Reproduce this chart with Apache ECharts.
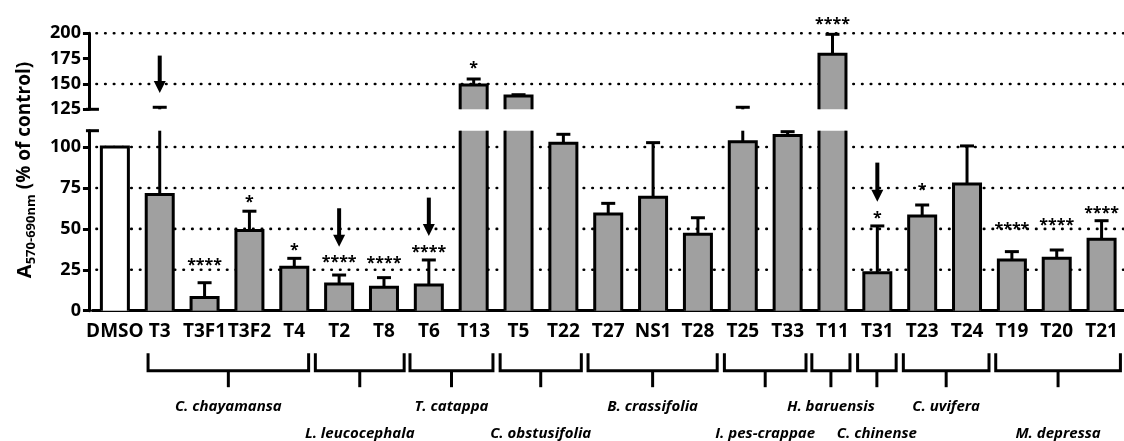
<!DOCTYPE html>
<html><head><meta charset="utf-8">
<script src="https://cdn.jsdelivr.net/npm/echarts@6/dist/echarts.min.js"></script>
<style>html,body{margin:0;padding:0;background:#fff}#c{width:1124px;height:441px}</style>
</head><body><div id="c"></div>
<script>
// ---------- data ----------
const categories = ['DMSO','T3','T3F1','T3F2','T4','T2','T8','T6','T13','T5','T22','T27','NS1','T28','T25','T33','T11','T31','T23','T24','T19','T20','T21'];
const means      = [100, 71, 8, 49, 26.5, 16.3, 14.3, 15.7, 149, 138.1, 102.3, 59.1, 69.3, 46.7, 103.3, 107, 179.3, 23.2, 57.9, 77.4, 31, 32, 43.6];
const errorTops  = [null, 127, 17.1, 60.8, 32, 21.8, 20.2, 31, 154.9, 139.4, 107.8, 65.6, 102.7, 56.8, 127, 109.4, 199, 51.8, 64.6, 100.7, 36.1, 37.1, 55];
const significance  = ['', '', '****', '*', '*', '****', '****', '****', '*', '', '', '', '', '', '', '', '****', '*', '*', '', '****', '****', '****'];
const significanceY = [null, null, 30, 68.9, 39.5, 32.2, 31.6, 38.3, 169.7, null, null, null, null, null, null, null, 212.5, 59.1, 76.2, null, 51.8, 54.4, 61.6];
const arrowFrom = [null, 178, null, null, null, 62.6, null, 69.1, null, null, null, null, null, null, null, null, null, 90.5, null, null, null, null, null];
const arrowTo   = [null, 141, null, null, null, 39.1, null, 45.7, null, null, null, null, null, null, null, null, null, 66.6, null, null, null, null, null];
const groupNames = ['C. chayamansa','L. leucocephala','T. catappa','C. obstusifolia','B. crassifolia','I. pes-crappae','H. baruensis','C. chinense','C. uvifera','M. depressa'];
const groupStart = [0.74, 4.47, 6.58, 8.59, 10.55, 13.59, 15.54, 16.56, 17.58, 19.64];
const groupEnd   = [4.32, 6.45, 8.43, 10.40, 13.43, 15.41, 16.39, 17.42, 19.49, 22.42];
const groupRow   = [0, 1, 0, 1, 0, 1, 0, 1, 0, 1];
const lowerRange = [0, 110];
const upperRange = [125, 200];
const lowerTicks = [0, 25, 50, 75, 100];
const upperTicks = [125, 150, 175, 200];
const lowerGridLines = [25, 50, 75, 100];
const upperGridLines = [150, 200];

// ---------- style ----------
const FONT = '"Open Sans", "Liberation Sans", sans-serif';
const GRAY = '#a0a0a0';
const LW = 3, HALF = 13.5, CAP = 7;

function lineEl(x1, y1, x2, y2, w) {
  return {type: 'line', shape: {x1, y1, x2, y2}, style: {stroke: '#000', lineWidth: w || LW}};
}

function makeRenderer(range, isUpper) {
  const [gMin, gMax] = range;
  const clamp = v => Math.max(gMin, Math.min(gMax, v));
  return function (params, api) {
    const i = api.value(0);
    const v = means[i], e = errorTops[i];
    const children = [];
    const base = api.coord([i, gMin]);
    const x = base[0], yBase = base[1];
    // bar outline
    if (v > gMin) {
      const yTop = api.coord([i, clamp(v)])[1];
      if (v <= gMax) {
        children.push({type: 'polyline', shape: {points: [[x - HALF, yBase], [x - HALF, yTop], [x + HALF, yTop], [x + HALF, yBase]]},
          style: {stroke: '#000', lineWidth: LW, fill: null, lineJoin: 'miter'}});
      } else {
        children.push(lineEl(x - HALF, yBase, x - HALF, yTop));
        children.push(lineEl(x + HALF, yBase, x + HALF, yTop));
      }
    }
    // error bar
    if (e != null && e > gMin && v < gMax) {
      const y0 = api.coord([i, clamp(v)])[1];
      const y1 = api.coord([i, clamp(e)])[1];
      children.push(lineEl(x, y0, x, y1));
      if (e <= gMax) children.push(lineEl(x - CAP, y1, x + CAP, y1));
    }
    // significance stars
    const s = significance[i], sy = significanceY[i];
    if (s && sy != null && ((isUpper && sy >= gMin) || (!isUpper && sy <= gMax))) {
      const p = api.coord([i, sy]);
      children.push({type: 'text', x: p[0], y: p[1] + 4,
        style: {text: s, align: 'center', verticalAlign: 'middle', fill: '#000', font: 'bold 16px ' + FONT}});
    }
    // arrows
    const af = arrowFrom[i], at = arrowTo[i];
    if (af != null && af >= gMin && af <= gMax + 20) {
      const p1 = api.coord([i, af]), p2 = api.coord([i, at]);
      children.push(lineEl(p1[0], p1[1], p2[0], p2[1] - 10, 4));
      children.push({type: 'polygon', shape: {points: [[p2[0] - 6, p2[1] - 12], [p2[0] + 6, p2[1] - 12], [p2[0], p2[1]]]},
        style: {fill: '#000'}});
    }
    // axis-break caps
    if (i === 0) {
      const bw = api.size([1, 0])[0];
      const ax = x - bw / 2 - 3.5;
      const yb = api.coord([0, isUpper ? gMin : gMax])[1];
      children.push(lineEl(ax - 3, yb, ax + 10, yb));
    }
    return {type: 'group', children};
  };
}

function gridLineRenderer(params, api) {
  const cs = params.coordSys;
  const y = api.coord([0, api.value(1)])[1];
  return {type: 'line', shape: {x1: cs.x + 4, y1: y, x2: cs.x + cs.width, y2: y},
    style: {stroke: '#000', lineWidth: 2.6, lineDash: [0.5, 8.2], lineCap: 'round'}};
}

function bracketRenderer(params, api) {
  const k = params.dataIndex;
  const p0 = api.coord([0, 0]);
  const bw = api.size([1, 0])[0];
  const xf = f => p0[0] + f * bw;
  const y = p0[1];
  const xl = xf(groupStart[k]), xr = xf(groupEnd[k]), xc = (xl + xr) / 2;
  return {type: 'group', children: [
    {type: 'polyline', shape: {points: [[xl, y + 42.5], [xl, y + 60], [xr, y + 60], [xr, y + 42.5]]},
      style: {stroke: '#000', lineWidth: LW, fill: null, lineJoin: 'miter'}},
    lineEl(xc, y + 60, xc, y + 76.5),
    {type: 'text', x: xc, y: y + (groupRow[k] ? 123 : 96),
      style: {text: groupNames[k], align: 'center', verticalAlign: 'middle', fill: '#000', font: 'italic bold 15px ' + FONT}}
  ]};
}

const barColors = categories.map(c => c === 'DMSO' ? '#ffffff' : GRAY);
const itemData = categories.map((c, i) => [i, means[i]]);

const chart = echarts.init(document.getElementById('c'), null, {renderer: 'canvas'});
const yAxisCommon = {
  type: 'value', offset: 3.5,
  axisLine: {show: true, lineStyle: {color: '#000', width: LW}},
  axisTick: {show: true, length: 6, lineStyle: {color: '#000', width: LW}},
  axisLabel: {color: '#000', fontSize: 18, fontWeight: 'bold', fontFamily: FONT, margin: 8},
  splitLine: {show: false}
};
chart.setOption({
  animation: false,
  grid: [
    {left: 92.45, right: -5.7, top: 33.3, height: 76},
    {left: 92.45, right: -5.7, top: 130.7, height: 180}
  ],
  xAxis: [
    {gridIndex: 0, type: 'category', data: categories, show: false},
    {gridIndex: 1, type: 'category', data: categories,
      axisLine: {lineStyle: {color: '#000', width: LW}},
      axisTick: {alignWithLabel: true, length: 6, lineStyle: {color: '#000', width: LW}},
      axisLabel: {interval: 0, color: '#000', fontSize: 19, fontWeight: 'bold', fontFamily: FONT, margin: 11}}
  ],
  yAxis: [
    Object.assign({}, yAxisCommon, {gridIndex: 0, min: upperRange[0], max: upperRange[1], interval: 25,
      axisTick: Object.assign({}, yAxisCommon.axisTick, {customValues: upperTicks}),
      axisLabel: Object.assign({}, yAxisCommon.axisLabel, {customValues: upperTicks})}),
    Object.assign({}, yAxisCommon, {gridIndex: 1, min: lowerRange[0], max: lowerRange[1], interval: 25,
      axisTick: Object.assign({}, yAxisCommon.axisTick, {customValues: lowerTicks}),
      axisLabel: Object.assign({}, yAxisCommon.axisLabel, {customValues: lowerTicks})})
  ],
  graphic: [{
    type: 'text', x: 25, y: 170, rotation: Math.PI / 2,
    style: {
      text: '{a|A}{s|570-690nm}{b| (% of control)}',
      align: 'center', verticalAlign: 'middle',
      rich: {
        a: {fontSize: 20, fontWeight: 'bold', fontFamily: FONT, fill: '#000', lineHeight: 26, verticalAlign: 'middle'},
        s: {fontSize: 13, fontWeight: 'bold', fontFamily: FONT, fill: '#000', lineHeight: 13, verticalAlign: 'bottom'},
        b: {fontSize: 19, fontWeight: 'bold', fontFamily: FONT, fill: '#000', lineHeight: 26, verticalAlign: 'middle'}
      }
    }
  }],
  series: [
    {type: 'custom', xAxisIndex: 0, yAxisIndex: 0, z: 1, data: upperGridLines.map(v => [0, v]), renderItem: gridLineRenderer, silent: true},
    {type: 'custom', xAxisIndex: 1, yAxisIndex: 1, z: 1, data: lowerGridLines.map(v => [0, v]), renderItem: gridLineRenderer, silent: true},
    {type: 'bar', xAxisIndex: 0, yAxisIndex: 0, z: 2, barWidth: 28, silent: true,
      data: means.map((v, i) => v > upperRange[0] ? {value: v, itemStyle: {color: barColors[i]}} : '-')},
    {type: 'bar', xAxisIndex: 1, yAxisIndex: 1, z: 2, barWidth: 28, silent: true,
      data: means.map((v, i) => ({value: v, itemStyle: {color: barColors[i]}}))},
    {type: 'custom', xAxisIndex: 0, yAxisIndex: 0, z: 3, data: itemData, renderItem: makeRenderer(upperRange, true), silent: true},
    {type: 'custom', xAxisIndex: 1, yAxisIndex: 1, z: 3, data: itemData, renderItem: makeRenderer(lowerRange, false), silent: true},
    {type: 'custom', xAxisIndex: 1, yAxisIndex: 1, z: 3, data: groupNames.map((n, k) => [Math.round((groupStart[k] + groupEnd[k]) / 2), 0]),
      renderItem: bracketRenderer, silent: true}
  ]
});
</script></body></html>
